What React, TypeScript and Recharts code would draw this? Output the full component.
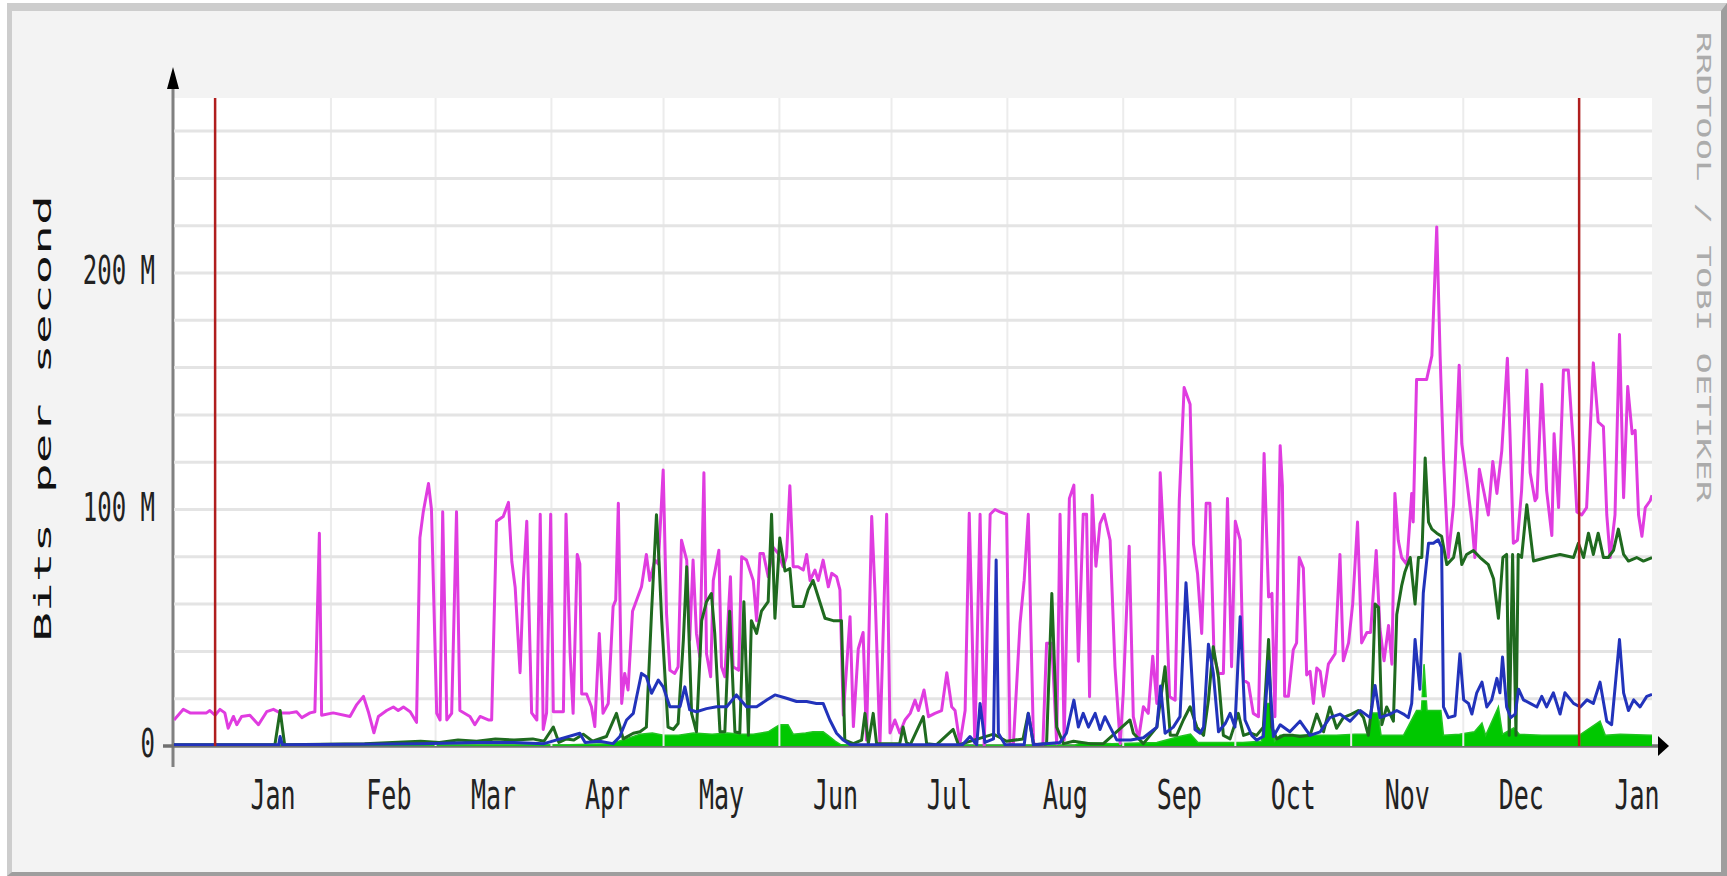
import React from "react";
import { ComposedChart, Line, Area, XAxis, YAxis, ReferenceLine } from "recharts";

// ---------- layout ----------
const W = 1727;
const H = 876;
const PLOT_LEFT = 174;
const PLOT_RIGHT = 1652;
const PLOT_TOP = 98;
const PLOT_BOTTOM = 746;
const XAXIS_H = 60;

// ---------- axes / labels ----------
const X_DOMAIN: [number, number] = [-11, 384.5]; // days from Jan 1
const Y_DOMAIN: [number, number] = [0, 274]; // Mbit/s
const monthLabelDays = [15.5, 46.5, 74.5, 105, 135.5, 166, 196.5, 227.5, 258, 288.5, 319, 349.5, 380.5];
const monthLabels = ["Jan", "Feb", "Mar", "Apr", "May", "Jun", "Jul", "Aug", "Sep", "Oct", "Nov", "Dec", "Jan"];
const monthStartDays = [0, 31, 59, 90, 120, 151, 181, 212, 243, 273, 304, 334, 365];
const yearMarkDays = [0, 365];
const yTickValues = [0, 100, 200];
const yTickLabels = ["0", "100 M", "200 M"];
const hGridValues = [20, 40, 60, 80, 100, 120, 140, 160, 180, 200, 220, 240, 260];
const yAxisTitle = "Bits per second";
const watermark = "RRDTOOL / TOBI OETIKER";

// ---------- series: [day, Mbit/s] ----------
const magentaSeries: [number, number][] = [
  [-11, 11], [-8.5, 15.5], [-6.7, 14], [-4.5, 14], [-2.3, 14], [-1.4, 15], [0, 13], [1.3, 15.5], [2.6, 14], [3.5, 7.5],
  [4.9, 12.5], [5.8, 9], [7.1, 12.5], [9.3, 13], [11.6, 9], [13.8, 14.5], [15.6, 15.5], [17.4, 14], [20, 14], [21.8, 14.5],
  [23.2, 12], [25.4, 14], [26.7, 14.5], [27.9, 90], [28.5, 13], [31.6, 14], [36.1, 12.5], [37.9, 17.5], [39.7, 21], [41, 14.5],
  [42.5, 5.6], [43.7, 12.5], [45.9, 15], [47.7, 16.5], [49, 15], [50.4, 16.5], [52.2, 14.5], [53.9, 10], [54.8, 88], [55.7, 99],
  [57.1, 111], [57.9, 100], [59.3, 13.8], [60.2, 11], [60.9, 99], [62, 11], [63.3, 13.8], [64.6, 99], [65.5, 15], [68.2, 12.5],
  [69.5, 9], [70.9, 12.5], [73.1, 11], [74, 11], [75.3, 95], [77.1, 97], [78.5, 103], [79.4, 78], [80.3, 67], [81.6, 31],
  [82.5, 70], [83.4, 95], [84.7, 14], [86.1, 11], [87, 98], [87.8, 7], [88.7, 14], [89.8, 98], [90.5, 14.5], [91.8, 14.5],
  [93.2, 14.5], [93.9, 98], [95, 39], [95.8, 13.8], [96.9, 81], [97.6, 77], [98.1, 22], [99.4, 22], [100.7, 16.6], [101.6, 8.2],
  [102.8, 47.6], [103.8, 13.8], [105.2, 18], [106.5, 59], [107.2, 61.7], [107.9, 102.6], [108.8, 18], [109.6, 30.7], [110.5, 23.7], [111.7, 57],
  [112.8, 61.7], [114.1, 67.3], [115.4, 81], [116.3, 70], [117.7, 78.6], [118.6, 77], [119.9, 116.7], [120.8, 56], [121.7, 32], [123, 30.7],
  [123.9, 33.5], [124.8, 87], [126.2, 78.6], [127, 44.8], [127.9, 78.6], [128.8, 47.6], [129.7, 37.7], [130.8, 115.5], [131.5, 39], [132.6, 29.3],
  [133.3, 70], [134.8, 82.8], [135.5, 33.5], [136.4, 29.3], [137.9, 71.6], [138.6, 33.5], [140.1, 32], [140.9, 80], [142.2, 78.6], [144, 70],
  [144.9, 53], [145.8, 81.4], [146.7, 81.4], [148, 71.6], [149.3, 84], [150.7, 81.4], [152, 75.8], [152.9, 80], [153.8, 110], [154.7, 75.8],
  [156, 75.8], [157.4, 74.4], [158.3, 81], [159.2, 70], [160.5, 74.4], [161.4, 70], [162.7, 78.6], [164.1, 67.3], [165, 73], [166.3, 71.6],
  [167.2, 66], [168.1, 13], [169.9, 54.7], [170.8, 8.2], [172.1, 41], [173.4, 48], [174.3, 2.5], [175.7, 97], [176.6, 64.5], [177.9, 0.5],
  [179.7, 98], [180.6, 5.5], [181.9, 11], [183.2, 5.5], [184.6, 11], [186, 13.8], [187.3, 19.4], [188.2, 15], [189.7, 23.7], [190.9, 12.4],
  [192.6, 13.8], [194.4, 15], [195.8, 31], [197.1, 16.6], [198, 15], [199.3, 1], [200.7, 15], [201.8, 98.4], [203.3, 1], [204.7, 98],
  [205.8, 0], [207.4, 98], [208.7, 100], [210, 99], [211.8, 98], [212.7, 1], [213.6, 0.5], [215.4, 52], [216.5, 70], [217.6, 98],
  [219, 1], [220.3, 0.5], [221.5, 0.5], [222.5, 43.4], [223.9, 43.4], [225.2, 1], [226.1, 98], [227.2, 2.5], [228.6, 104.7], [229.8, 110.3],
  [231, 35.8], [232.3, 98], [233.2, 98], [234, 20.8], [234.7, 106], [235.7, 76], [236.8, 94], [237.9, 98], [239.5, 87], [240.8, 33.5],
  [242.2, 1], [243, 22], [244.6, 84.5], [245.7, 12.4], [247.1, 3], [248.4, 16.6], [249.7, 13.8], [250.9, 38], [252, 18], [252.9, 115.5],
  [254.2, 75.8], [255.4, 20.8], [256.9, 19.4], [258, 103.7], [259.3, 151.6], [260.9, 144.5], [261.8, 85.4], [262.9, 72.7], [264, 47.6], [265.2, 102.6],
  [266.2, 102.6], [267.3, 38], [268.5, 30.7], [269.8, 30.7], [270.9, 104.7], [272, 33.5], [273, 95], [274.3, 87], [275.2, 27.9], [276.5, 26.5],
  [277.8, 13.8], [279.2, 12.4], [280.7, 123.7], [281.9, 63], [282.8, 64.5], [283.6, 12.4], [285, 127], [285.6, 110], [286.2, 21], [287.2, 21],
  [288.5, 40.6], [289.4, 43.6], [290.1, 79.7], [291.2, 75.2], [292.1, 30], [293, 31.6], [293.9, 18], [294.8, 33], [295.7, 31.6], [296.6, 21],
  [297.9, 34.6], [299.7, 39], [301, 81], [301.9, 36], [303.3, 43.6], [304.4, 60], [305.7, 94.7], [306.8, 43.6], [308.2, 48], [309.2, 48],
  [310.7, 82.7], [311.7, 49.6], [312.8, 36], [314, 51], [314.9, 34.6], [315.7, 106.8], [316.6, 87], [317.5, 79.7], [318.9, 76.7], [320.2, 106.8],
  [320.6, 94.7], [321.5, 155], [322.9, 155], [324.2, 155], [325.6, 165], [326.9, 219.5], [327.8, 165], [328.7, 121.8], [330, 79.7], [331.4, 102],
  [332.9, 161], [333.6, 127.8], [334.9, 112.8], [336.3, 94.7], [337.1, 79.7], [338.3, 117], [339.6, 106.8], [340.7, 97.7], [341.9, 120.3], [343, 106.8],
  [344.3, 124.8], [345.8, 164], [346.5, 132], [347.4, 85.7], [348.5, 87], [349.6, 108], [351, 159], [351.9, 115.5], [353.2, 103.7], [353.7, 105],
  [355, 153], [356.3, 108], [357.7, 89], [358.3, 132], [359.5, 100.8], [360.8, 159], [362.1, 159], [363.5, 126], [364.4, 99], [365.7, 97.7],
  [367, 100.8], [368.8, 162], [370.1, 137], [371.5, 135], [372.4, 97.7], [373.3, 79.7], [374.6, 97.7], [375.8, 174], [376.9, 105], [378, 152],
  [379.2, 132], [380, 133.5], [380.9, 97.7], [381.8, 88.7], [382.7, 100.8], [384, 103.7], [384.5, 106],
];

const darkGreenSeries: [number, number][] = [
  [-11, 0.5], [16, 0.5], [17.4, 15], [18.6, 0.5], [40, 1], [55, 2], [60, 1.5], [65, 2.5], [70, 2], [75, 3],
  [80, 2.5], [85, 3], [88, 2], [90.5, 8], [92, 1.5], [94, 3], [96, 2.5], [98.5, 5], [101, 2], [104.7, 4],
  [107.4, 13.8], [109.2, 3], [111.9, 5.4], [113.7, 6], [115.4, 8], [116.8, 57], [118.1, 97.8], [118.8, 78], [119.5, 53], [121.2, 8],
  [122.6, 7], [123.9, 9.5], [125.3, 44.8], [126.2, 75.8], [127.5, 13.8], [128.8, 6], [130.2, 53], [131.5, 61], [132.8, 64.5], [133.7, 47.6],
  [135.1, 6], [136.4, 6], [137.7, 57], [139.1, 6], [140.4, 5.5], [141.5, 61], [142.7, 4.5], [143.5, 53], [144.9, 47.6], [146.2, 57],
  [148, 61], [148.9, 98], [149.8, 54], [151.1, 88], [152.5, 74], [153.8, 75], [154.7, 59], [157.4, 59], [158.7, 66], [160, 70],
  [161.8, 61], [163.2, 54], [165.4, 53], [167.6, 53], [168.5, 2.5], [170.8, 1], [173, 2.5], [173.9, 13.8], [174.8, 1], [176.1, 13.8],
  [177, 1], [183.2, 1], [184.1, 8], [185, 1.5], [186, 0.5], [189.5, 12.4], [190.4, 1], [193, 0.5], [197.5, 7], [198.9, 0.5],
  [208.3, 5], [210.1, 3.5], [211.8, 2], [216.2, 3], [217.6, 13.8], [219, 0.5], [222.5, 1], [223.9, 64.5], [225.2, 8], [227, 1],
  [229.7, 2], [234.1, 1], [237.7, 1], [244.8, 11], [245.7, 5.4], [248.4, 1], [252, 8], [254.2, 33.5], [255.6, 4.5], [257.3, 4.5],
  [259.1, 11], [260.9, 16.6], [262.7, 8], [264.5, 4.5], [265.8, 19.4], [267.1, 42], [268.5, 29], [269.8, 4.5], [271.6, 3], [273.8, 13.8],
  [275.2, 4.5], [277, 5.5], [278.7, 4.5], [280.5, 8], [281.9, 45], [282.7, 8], [284.1, 3], [285.9, 4.5], [288.5, 4.5], [290.3, 4],
  [293, 4.5], [294.8, 13.5], [296.6, 6], [298.3, 16.5], [300.1, 7.5], [301.9, 12], [304.1, 13.5], [305.9, 15], [307.3, 12], [308.6, 4.5],
  [309.5, 16.5], [310.4, 60], [311.3, 58.6], [312.2, 9], [313.5, 16.5], [315.3, 10.5], [316.2, 55.6], [317.5, 67.7], [318.4, 73.7], [319.8, 79.7],
  [321.1, 60], [322, 79.7], [322.9, 79.7], [323.8, 121.8], [324.7, 94.7], [325.6, 91.7], [326.9, 90], [328.2, 88.7], [329.6, 76.7], [331.4, 79.7],
  [332.7, 90], [333.6, 76.7], [334.9, 81], [336.7, 82.7], [338.5, 79.7], [340.7, 76.7], [342.1, 70.7], [343.4, 54], [344.6, 79.7], [345.6, 81],
  [346.3, 4.5], [347.2, 81], [348.1, 4.5], [348.7, 81], [349.6, 79.7], [351, 102], [352.8, 78.2], [356.3, 79.7], [359.9, 81], [363.5, 79.7],
  [364.8, 85.7], [366.2, 79.7], [367.5, 90], [368.8, 81], [370.1, 90], [371.5, 79.7], [372.8, 79.7], [374.2, 82.7], [375.5, 91.7], [376.9, 81],
  [378.2, 78.2], [380.4, 79.7], [382.2, 78.2], [384.5, 79.7],
];

const blueSeries: [number, number][] = [
  [-11, 0.5], [17, 0.5], [17.4, 4], [18, 0.5], [55, 1], [70, 1.5], [80, 1.5], [88, 1], [97.6, 5.4], [99, 1.5],
  [102.9, 2], [106.5, 1], [108.3, 4], [110.1, 11], [111.9, 13.8], [112.8, 20.8], [114.1, 30.7], [115.4, 29.3], [116.8, 22.3], [118.6, 27.9],
  [119.9, 25], [121.7, 16.6], [124.4, 16.6], [125.7, 25], [127, 15.3], [128.8, 14.5], [131.5, 15.8], [134.2, 16.6], [136.9, 16.6], [139.5, 21.6],
  [142.2, 16.6], [144.9, 16.6], [147.6, 19.4], [149.8, 21.6], [152.9, 20.2], [155.6, 18.8], [158.3, 18.8], [160.9, 18], [162.7, 18], [164.5, 11],
  [166.3, 5.4], [168.1, 2.5], [170, 0.5], [200, 0.5], [202, 4], [203.8, 0.5], [204.7, 18], [206, 1.5], [208.3, 3], [209, 78.6],
  [209.6, 5.4], [211.4, 0.5], [216.5, 0.5], [217.6, 13.8], [219, 0.5], [226.1, 1.5], [227.8, 5.4], [228.6, 11], [229.8, 19.4], [231, 8],
  [232.3, 13.8], [233.7, 8], [235.5, 13.8], [236.8, 7], [238.1, 12.4], [239.5, 8], [241.3, 2.5], [245, 2.5], [248.4, 3.5], [252, 8],
  [253, 25.4], [254.2, 5.4], [256.4, 8], [258.2, 12.4], [259.8, 69], [260.9, 42], [262.2, 7], [263.6, 5.4], [264.5, 8], [265.8, 43],
  [267.1, 31], [268.5, 6], [270.3, 9.5], [271.6, 13.8], [272.9, 8], [274.3, 54.7], [275.6, 11], [277.4, 4.5], [278.7, 2.5], [280.5, 4],
  [281.9, 35.8], [283.2, 4], [285, 9], [287.6, 6], [290.3, 10.5], [293, 4.5], [295.7, 6], [298.3, 12], [301, 13.5], [303.7, 10.5],
  [306.4, 15], [309.1, 12], [310.4, 25.6], [311.7, 12], [314.4, 13.5], [316.2, 15], [318, 13.5], [319.3, 12], [320.2, 18], [321.1, 45],
  [322.4, 24], [323.3, 64.7], [324.7, 85.7], [326, 85.7], [327.3, 87.2], [328.2, 84], [328.7, 16.5], [330, 12], [331.8, 12.8], [333.1, 39],
  [334.1, 19.5], [335.4, 18], [336.3, 13.5], [337.6, 22.5], [339, 27], [340.3, 16.5], [341.6, 19.5], [343, 28.6], [343.8, 22.5], [344.5, 37.6],
  [345.6, 16.5], [346.7, 12], [347.9, 13.5], [348.8, 24], [350.1, 19.5], [351.9, 18], [353.7, 16.5], [355, 21], [356.3, 16.5], [358.1, 22.5],
  [359.9, 13.5], [361.2, 22.5], [363.5, 18], [365.3, 16.5], [367.1, 19.5], [368.8, 18], [370.6, 27], [372.4, 10.5], [373.7, 9], [375.8, 45],
  [376.9, 22.5], [378.2, 15], [379.6, 19.5], [381.3, 16.5], [383.1, 21], [384.5, 21.8],
];

const brightGreenSeries: [number, number][] = [
  [-11, 0.3], [95, 0.5], [105, 1], [108, 2], [110, 3], [113.7, 5], [117, 5.5], [120, 4.5], [124, 4.5], [128, 5.5],
  [133, 5], [137, 5.5], [141, 5], [144, 5], [148, 6], [150, 8], [151.1, 9], [153.3, 9], [154.7, 5], [158, 5.5],
  [160, 6], [162.7, 6], [164, 4.5], [166, 2], [167.5, 0.5], [170, 0.3], [230, 0.3], [232, 1.5], [240, 1], [252, 1.5],
  [258, 4], [261, 5], [263, 1.5], [275, 1.5], [280, 2], [281.2, 18], [282.5, 18], [283.5, 2], [285, 4.5], [300, 4.5],
  [305, 5], [308.8, 5], [309.5, 14], [311.2, 14], [312, 4.5], [318, 4.5], [320, 10.5], [321.5, 15], [322.8, 15], [323.5, 34.6],
  [324.3, 15], [328, 15], [328.7, 4.5], [333, 5], [337, 6], [339, 9.7], [340, 4.5], [343.4, 16.5], [344.5, 5], [347.5, 7.6],
  [349, 5], [355, 4.5], [365, 4.5], [370.6, 10.5], [372, 4.5], [376, 5], [384.5, 4.5],
];

const toRows = (s: [number, number][]) => s.map(([d, v]) => ({ d, v }));
const magentaData = toRows(magentaSeries);
const darkGreenData = toRows(darkGreenSeries);
const blueData = toRows(blueSeries);
const brightGreenData = toRows(brightGreenSeries);

const MONO = "'DejaVu Sans Mono', monospace";

const MonthTick = (props: any) => {
  const { x, payload } = props;
  const i = monthLabelDays.indexOf(payload.value);
  return (
    <text
      transform={`translate(${x},${PLOT_BOTTOM + 63}) scale(1,1.6)`}
      textAnchor="middle"
      fontFamily={MONO}
      fontSize={25}
      fill="#222"
    >
      {monthLabels[i]}
    </text>
  );
};

const ValueTick = (props: any) => {
  const { y, payload } = props;
  const i = yTickValues.indexOf(payload.value);
  return (
    <text
      transform={`translate(${PLOT_LEFT - 19},${y + 11}) scale(1,1.6)`}
      textAnchor="end"
      fontFamily={MONO}
      fontSize={24}
      fill="#222"
    >
      {yTickLabels[i]}
    </text>
  );
};

export default function App() {
  const axisY = PLOT_BOTTOM;
  const axisX = PLOT_LEFT - 1;
  return (
    <div style={{ position: "absolute", left: 0, top: 0, width: W, height: H, background: "#ffffff" }}>
      {/* frame */}
      <div
        style={{
          position: "absolute",
          left: 7,
          top: 3,
          width: W - 7,
          height: H - 3,
          boxSizing: "border-box",
          background: "#f3f3f3",
          borderTop: "8px solid #cdcdcd",
          borderLeft: "5px solid #cdcdcd",
          borderRight: "6px solid #9e9e9e",
          borderBottom: "4px solid #9e9e9e",
        }}
      />
      {/* canvas, axes, titles */}
      <svg style={{ position: "absolute", left: 0, top: 0 }} width={W} height={H}>
        <rect x={PLOT_LEFT} y={PLOT_TOP} width={PLOT_RIGHT - PLOT_LEFT} height={PLOT_BOTTOM - PLOT_TOP} fill="#ffffff" />
        <line x1={axisX} y1={PLOT_TOP - 12} x2={axisX} y2={PLOT_BOTTOM + 21} stroke="#808080" strokeWidth={3} />
        <line x1={PLOT_LEFT - 11} y1={axisY} x2={PLOT_RIGHT + 8} y2={axisY} stroke="#707070" strokeWidth={3.5} />
        <polygon points={`${axisX},${PLOT_TOP - 31} ${axisX - 6},${PLOT_TOP - 9} ${axisX + 6},${PLOT_TOP - 9}`} fill="#000" />
        <polygon points={`${PLOT_RIGHT + 17},${axisY} ${PLOT_RIGHT + 6},${axisY - 10} ${PLOT_RIGHT + 6},${axisY + 10}`} fill="#000" />
        <text
          transform={`translate(51,${(PLOT_TOP + PLOT_BOTTOM) / 2 - 3.5}) rotate(-90) scale(2.15,1)`}
          textAnchor="middle"
          fontFamily={MONO}
          fontSize={23}
          fill="#111"
        >
          {yAxisTitle}
        </text>
        <text
          transform={`translate(1697,267) rotate(90) scale(1.87,1)`}
          textAnchor="middle"
          fontFamily={MONO}
          fontSize={19}
          fill="#ababab"
        >
          {watermark}
        </text>
      </svg>
      <div style={{ position: "absolute", left: 0, top: 0 }}>
        <ComposedChart
          width={W}
          height={H}
          margin={{ top: PLOT_TOP, right: W - PLOT_RIGHT, bottom: H - PLOT_BOTTOM - XAXIS_H, left: 0 }}
        >
          <XAxis
            type="number"
            dataKey="d"
            domain={X_DOMAIN}
            allowDataOverflow
            ticks={monthLabelDays}
            interval={0}
            tickLine={false}
            axisLine={false}
            height={XAXIS_H}
            tick={(p: any) => <MonthTick {...p} />}
          />
          <YAxis
            type="number"
            domain={Y_DOMAIN}
            allowDataOverflow
            ticks={yTickValues}
            interval={0}
            width={PLOT_LEFT}
            tickLine={false}
            axisLine={false}
            tick={(p: any) => <ValueTick {...p} />}
          />
          {monthStartDays.map((d) => (
            <ReferenceLine key={`v${d}`} x={d} stroke="#ececec" strokeWidth={2} />
          ))}
          {hGridValues.map((v) => (
            <ReferenceLine key={`h${v}`} y={v} stroke="#e4e4e4" strokeWidth={3} />
          ))}
          <Area
            data={brightGreenData}
            dataKey="v"
            type="linear"
            fill="#00c800"
            fillOpacity={1}
            stroke="#22c422"
            strokeWidth={1.5}
            baseValue={0}
            dot={false}
            activeDot={false}
            isAnimationActive={false}
          />
          <Line data={magentaData} dataKey="v" type="linear" stroke="#e03ce0" strokeWidth={3} strokeLinejoin="round" dot={false} activeDot={false} isAnimationActive={false} />
          <Line data={darkGreenData} dataKey="v" type="linear" stroke="#1f6a1f" strokeWidth={3} strokeLinejoin="round" dot={false} activeDot={false} isAnimationActive={false} />
          <Line data={blueData} dataKey="v" type="linear" stroke="#2233bb" strokeWidth={3} strokeLinejoin="round" dot={false} activeDot={false} isAnimationActive={false} />
          {yearMarkDays.map((d) => (
            <ReferenceLine key={`r${d}`} x={d} stroke="#b01e1e" strokeWidth={2.5} />
          ))}
        </ComposedChart>
      </div>
    </div>
  );
}
